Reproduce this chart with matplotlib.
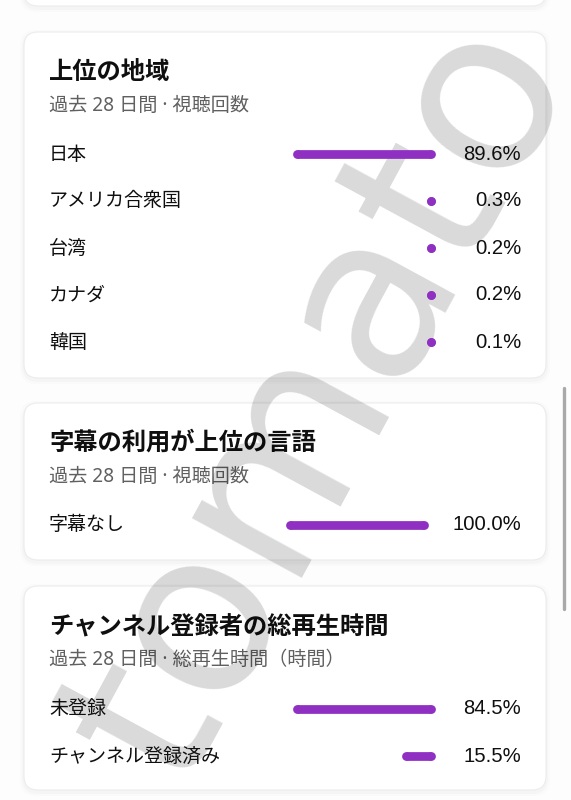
import matplotlib
matplotlib.use("Agg")
import matplotlib.pyplot as plt
from matplotlib.patches import FancyBboxPatch, Rectangle
from matplotlib import transforms

plt.rcParams["font.family"] = ["Noto Sans CJK JP", "DejaVu Sans"]

# data
region_titles = ["日本", "アメリカ合衆国", "台湾", "カナダ", "韓国"]
region_values = [89.6, 0.3, 0.2, 0.2, 0.1]

caption_titles = ["字幕なし"]
caption_values = [100.0]

sub_titles = ["未登録", "チャンネル登録済み"]
sub_values = [84.5, 15.5]

card_headers = ["上位の地域", "字幕の利用が上位の言語", "チャンネル登録者の総再生時間"]
card_subheaders = ["過去 28 日間 · 視聴回数", "過去 28 日間 · 視聴回数",
                   "過去 28 日間 · 総再生時間（時間）"]

W, H = 571, 800
PURPLE = "#8f30c3"
TEXT = "#0f0f0f"
GRAY = "#606060"

fig = plt.figure(figsize=(W / 100, H / 100), dpi=100)
fig.patch.set_facecolor("#fdfdfd")
ax = fig.add_axes([0, 0, 1, 1])
ax.set_xlim(0, W)
ax.set_ylim(H, 0)
ax.axis("off")


def card(y0, y1):
    # soft shadow then white card
    for k, a in [(4, 0.012), (2, 0.02)]:
        ax.add_patch(FancyBboxPatch((24 - k, y0 - k + 2), 522 + 2 * k, y1 - y0 + 2 * k,
                                    boxstyle="round,pad=0,rounding_size=16",
                                    fc="black", ec="none", alpha=a, zorder=1))
    ax.add_patch(FancyBboxPatch((24, y0), 522, y1 - y0,
                                boxstyle="round,pad=0,rounding_size=14",
                                fc="white", ec="#ececec", lw=0.8, zorder=2))


# (card top, card bottom, header y, subheader y, first row y, row step, bar right px)
layout = [
    (32, 378, 72, 106, 154, 47, 431),
    (403, 560, 443, 477, 525, 47, 424),
    (586, 790, 627, 660, 709, 47, 431),
]
series = [(region_titles, region_values),
          (caption_titles, caption_values),
          (sub_titles, sub_values)]

card(-30, 6)

for (y0, y1, hy, sy, ry, step, xr), (names, vals), head, sub in zip(
        layout, series, card_headers, card_subheaders):
    card(y0, y1)
    ax.text(49, hy, head, fontsize=17.5, fontweight="bold", color=TEXT,
            ha="left", va="center", zorder=3)
    ax.text(49, sy, sub, fontsize=13.8, color=GRAY, ha="left", va="center", zorder=3,
            family=["Noto Sans", "Noto Sans CJK JP"])

    # bar axes: value 0 sits at the right end, bars grow to the left
    n = len(names)
    top = ry - step / 2
    bottom = ry + step * (n - 0.5)
    bar_len = 134
    bax = fig.add_axes([(xr - bar_len) / W, 1 - bottom / H, bar_len / W, (bottom - top) / H])
    bax.set_xlim(max(vals), 0)
    bax.set_ylim(n - 0.5, -0.5)
    bax.axis("off")
    bax.patch.set_alpha(0)
    for i, v in enumerate(vals):
        bax.plot([0, v], [i, i], color=PURPLE, lw=6.3, solid_capstyle="butt",
                 marker="o", ms=6.3, mew=0, clip_on=False)
    tr = transforms.blended_transform_factory(ax.transData, bax.transData)
    for i, (name, v) in enumerate(zip(names, vals)):
        bax.text(49, i, name, transform=tr, fontsize=13.7, color=TEXT,
                 ha="left", va="center")
        bax.text(521, i, f"{v:.1f}%", transform=tr, fontsize=14.6, color=TEXT,
                 ha="right", va="center", family=["Liberation Sans", "DejaVu Sans"])

# scrollbar
ax.plot([564, 564], [388, 609], color="#a9a9a9", lw=2.4, solid_capstyle="round", zorder=4)

# watermark over everything, clipped at the card's right edge
wm = ax.text(180, 792, "tomato", fontsize=165, family="DejaVu Sans", color="black",
             alpha=0.15, rotation=61.5, rotation_mode="anchor", ha="left",
             va="baseline", zorder=10)
clip = Rectangle((0, 0), 547, H, transform=ax.transData, visible=False)
ax.add_patch(clip)
wm.set_clip_path(clip)

fig.savefig("out.png", dpi=100, facecolor=fig.get_facecolor())
